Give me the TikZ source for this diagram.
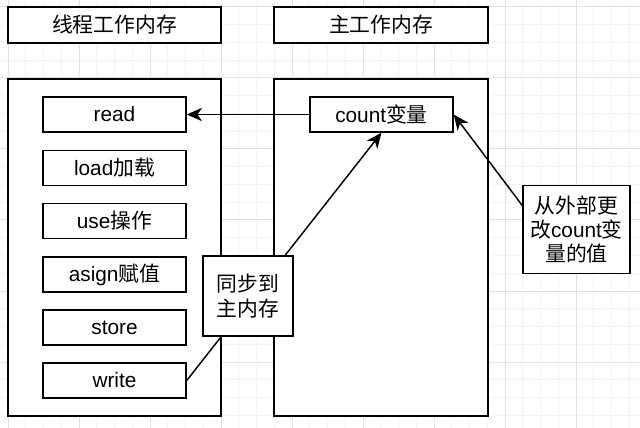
\documentclass[tikz,border=0pt]{standalone}
\usepackage{fontspec}
\setmainfont{Liberation Sans}
\newfontfamily\cjk{Noto Sans CJK SC}
\usetikzlibrary{arrows.meta}
\definecolor{gridminor}{HTML}{F2F2F2}
\definecolor{gridmajor}{HTML}{E2E2E2}
\tikzset{
  box/.style={draw=black,line width=1.1pt,fill=white,inner sep=0pt,
    font=\fontsize{15.6}{18.2}\selectfont,align=center},
  titlebox/.style={box,minimum height=27pt},
  bigbox/.style={box,minimum height=252.75pt},
  opbox/.style={box,minimum width=107.25pt,minimum height=26.25pt},
  conn/.style={line width=1.1pt,draw=black},
  arr/.style={conn,-{Stealth[length=11.5pt,width=10pt,inset=3.5pt]}},
}
\begin{document}
\begin{tikzpicture}[x=0.75pt,y=-0.75pt]
\useasboundingbox (0,0) rectangle (640,428);
\fill[white] (0,0) rectangle (640,428);
% background grid
\foreach \k in {-1,...,35} \draw[gridminor,line width=0.75pt] ({8+\k*17.75},0) -- ({8+\k*17.75},428);
\foreach \k in {-1,...,23} \draw[gridminor,line width=0.75pt] (0,{7+\k*17.75}) -- (640,{7+\k*17.75});
\foreach \k in {0,4,...,32} \draw[gridmajor,line width=0.75pt] ({8+\k*17.75},0) -- ({8+\k*17.75},428);
\foreach \k in {0,4,...,20} \draw[gridmajor,line width=0.75pt] (0,{7+\k*17.75}) -- (640,{7+\k*17.75});

% titles
\node[titlebox,minimum width=159.75pt] (t1) at (114.5,25) {\cjk 线程工作内存};
\node[titlebox,minimum width=160.5pt] (t2) at (381,25) {\cjk 主工作内存};

% big boxes
\node[bigbox,minimum width=159.75pt] (thread) at (114.5,247.5) {};
\node[bigbox,minimum width=160.5pt] (main) at (381,247.5) {};

% operation boxes
\node[opbox] (read)  at (114.5,114.5) {read};
\node[opbox] (load)  at (114.5,168)   {load{\cjk 加载}};
\node[opbox] (use)   at (114.5,221)   {use{\cjk 操作}};
\node[opbox] (asign) at (114.5,274.5) {asign{\cjk 赋值}};
\node[opbox] (store) at (114.5,327.5) {store};
\node[opbox] (write) at (114.5,380.5) {write};

\node[opbox] (count) at (381.5,114.5) {count{\cjk 变量}};

% connectors
\draw[arr] (count.west) -- (read.east);
\draw[arr] (write.east) -- (count.south);

\node[box,minimum width=67.5pt,minimum height=60pt] (sync) at (248,296)
  {{\cjk 同步到}\\{\cjk 主内存}};

\node[box,minimum width=80.25pt,minimum height=66pt] (note) at (576.5,229.5)
  {{\cjk 从外部更}\\{\cjk 改}count{\cjk 变}\\{\cjk 量的值}};
\coordinate (ns) at ([yshift=18pt]note.west);
\draw[arr] (ns) -- (count.east);
\end{tikzpicture}
\end{document}
